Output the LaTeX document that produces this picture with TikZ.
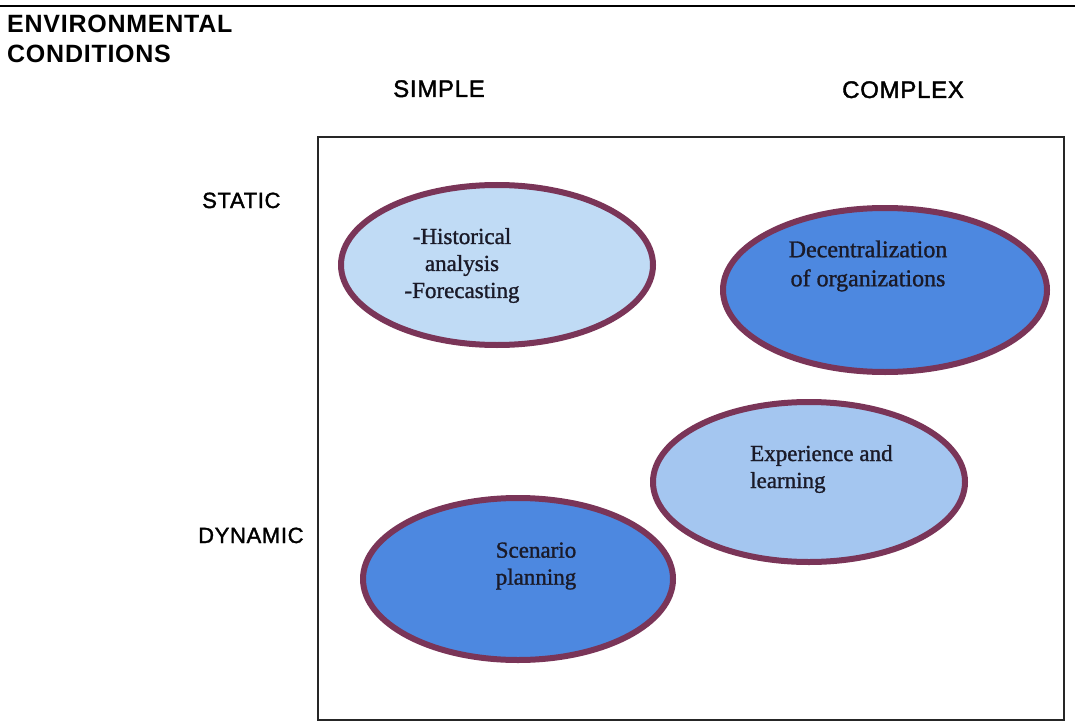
\documentclass[tikz,border=0pt]{standalone}
\usepackage{fontspec}
\setmainfont[FakeBold=1.2]{Liberation Serif}
\newfontfamily\labfont[FakeBold=1.6,LetterSpace=3]{Liberation Sans}
\newfontfamily\titlefont[LetterSpace=3]{Liberation Sans}
\usetikzlibrary{shapes.geometric}
\definecolor{rimcol}{HTML}{7A3558}
\definecolor{lightfill}{HTML}{C0DBF5}
\definecolor{midfill}{HTML}{A4C6F0}
\definecolor{darkfill}{HTML}{4D88E0}
\definecolor{inktext}{HTML}{1A1A28}
\tikzset{
  oval/.style={ellipse, draw=rimcol, line width=6pt, inner sep=0pt},
  ovaltext/.style={inner sep=0pt, text=inktext, font=\fontsize{23}{27}\selectfont},
  axislabel/.style={inner sep=0pt, anchor=base west, font=\labfont\fontsize{24}{28}\selectfont},
  sidelabel/.style={inner sep=0pt, anchor=base west, font=\labfont\fontsize{22}{27}\selectfont},
  titlelabel/.style={inner sep=0pt, anchor=base west, font=\titlefont\bfseries\fontsize{25}{30}\selectfont},
}
\begin{document}
\begin{tikzpicture}[x=1pt,y=-1pt]
\useasboundingbox (0,0) rectangle (1075,722);
% top rule
\coordinate (ruleL) at (0,6);
\coordinate (ruleR) at (1075,6);
\draw[line width=2pt] (ruleL) -- (ruleR);
% title
\node[titlelabel] (t1) at (7,33) {ENVIRONMENTAL};
\node[titlelabel] (t2) at (7,63) {CONDITIONS};
% axis labels
\node[axislabel] (simple) at (393,97) {SIMPLE};
\node[axislabel] (complex) at (842,98) {COMPLEX};
\node[sidelabel] (static) at (202,208) {STATIC};
\node[sidelabel] (dynamic) at (198,543) {DYNAMIC};
% frame
\draw[line width=2.5pt, draw=black!85] (318,137) rectangle (1064,720);
% ellipses
\node[oval, fill=lightfill, minimum width=312pt, minimum height=160pt] (e1) at (497,265) {};
\node[oval, fill=darkfill, minimum width=324pt, minimum height=164pt] (e2) at (885,290) {};
\node[oval, fill=midfill, minimum width=312pt, minimum height=160pt] (e3) at (809,482) {};
\node[oval, fill=darkfill, minimum width=310pt, minimum height=162pt] (e4) at (518,579) {};
% texts
\node[ovaltext, align=center] (x1) at (462,265.5) {-Historical\\analysis\\-Forecasting};
\node[ovaltext, align=center, font=\fontsize{24}{29}\selectfont] (x2) at (868,266) {Decentralization\\of organizations};
\node[ovaltext, align=left, anchor=west] (x3) at (750,469) {Experience and\\learning};
\node[ovaltext, align=center] (x4) at (536,566) {Scenario\\planning};
\end{tikzpicture}
\end{document}
